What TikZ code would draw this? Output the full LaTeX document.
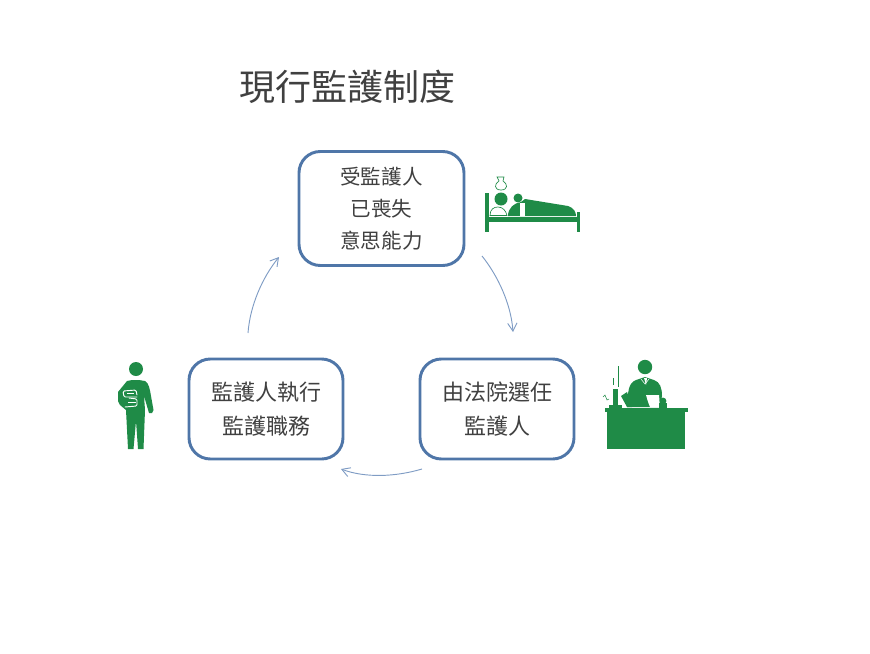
\documentclass[tikz,border=0pt]{standalone}
\usepackage{fontspec}
\setmainfont{Noto Sans CJK TC}
\usetikzlibrary{arrows.meta}
\definecolor{boxblue}{HTML}{4F76A8}
\definecolor{arrowblue}{HTML}{7F9CC4}
\definecolor{txt}{HTML}{404040}
\definecolor{icon}{HTML}{1F8B47}
\tikzset{
  stepbox/.style={draw=boxblue,line width=2.2pt,rounded corners=16pt,fill=white,text=txt,align=center,inner sep=0pt},
  link/.style={draw=arrowblue,line width=0.7pt,-{Straight Barb[length=6pt,width=7pt,line width=0.7pt]}},
  ink/.style={fill=icon,draw=none},
  whiteline/.style={draw=white,line width=0.7pt},
}
\begin{document}
\begin{tikzpicture}[x=0.75pt,y=-0.75pt]
\useasboundingbox (0,0) rectangle (870,653);
\node[text=txt,font=\fontsize{27}{30}\selectfont,inner sep=0pt] (title) at (347,87) {現行監護制度};
\node[stepbox,font=\fontsize{15.4}{24}\selectfont,minimum width=123.75pt,minimum height=85.5pt] (ward) at (381.5,208.5) {受監護人\\已喪失\\意思能力};
\node[stepbox,font=\fontsize{16.5}{25.5}\selectfont,minimum width=115.5pt,minimum height=75pt] (court) at (497,409) {由法院選任\\監護人};
\node[stepbox,font=\fontsize{16.5}{25.5}\selectfont,minimum width=115.5pt,minimum height=75pt] (guard) at (266,409) {監護人執行\\監護職務};
\coordinate (a1s) at (248,333); \coordinate (a1e) at (279,257);
\coordinate (a2s) at (482,256); \coordinate (a2e) at (513,332);
\coordinate (a3s) at (422,469); \coordinate (a3e) at (341,469);
\draw[link] (a1s) .. controls (250,306) and (262,278) .. (a1e);
\draw[link] (a2s) .. controls (498,276) and (511,304) .. (a2e);
\draw[link] (a3s) .. controls (395,477) and (365,478) .. (a3e);
% bed icon
\fill[ink] (485,193) rectangle (488.5,232);
\fill[ink] (576.5,212) rectangle (580,232);
\fill[ink] (485,217) rectangle (580,222);
\fill[ink] (501,199) circle (6.5);
\fill[ink] (518,198) circle (4.5);
\fill[ink] (508,216) .. controls (508,208) and (514,203) .. (521,202) -- (525,199) -- (568,206) .. controls (574,208) and (576,212) .. (576,216) -- cycle;
\fill[white] (520,203) rectangle (525,216);
\draw[icon,line width=0.5pt,fill=white] (490,215.5) .. controls (490,209) and (494,207) .. (498,207) .. controls (503,207) and (506,211) .. (507,215.5) -- cycle;
\draw[icon,line width=0.5pt,fill=white] (497,177) -- (504,177) -- (503,181) .. controls (508,184) and (508,190) .. (501,190) .. controls (494,190) and (494,184) .. (499,181) -- cycle;
% desk icon
\fill[ink] (605,408) rectangle (688,412);
\fill[ink] (607,412) rectangle (685,449);
\fill[ink] (645,367) circle (7.2);
\fill[ink] (627,407) .. controls (628,392) and (628,383) .. (636,380) -- (645,377) -- (654,380) .. controls (660,382) and (662,388) .. (662,396) -- (660,407) -- cycle;
\fill[ink] (621,396) -- (627,392) -- (632,407) -- (627,407) -- cycle;
\fill[white] (644,378) -- (647,378) -- (646,385) -- cycle;
\draw[white,line width=0.4pt] (641,379) -- (645,384) -- (649,379);
\fill[white] (646,395) -- (659,395) -- (660,407) -- (650,407) .. controls (648,402) and (647,399) .. (646,395) -- cycle;
\fill[ink] (663,401) circle (3.4); \fill[ink] (659,403) rectangle (667,408);
\fill[ink] (613,389) rectangle (618,405);
\fill[ink] (609,405) rectangle (622,407.5);
\draw[icon,line width=0.5pt] (618,366) -- (618,387);
\draw[icon,line width=0.5pt] (613,378) -- (613,385);
\draw[icon,line width=0.4pt] (603,397) -- (605,395) -- (607,400) -- (609,399);
% standing person icon
\fill[ink] (136,369) circle (7);
\fill[ink] (127,381) -- (132,380) -- (139,380) -- (145,381) .. controls (149,383) and (150,390) .. (151,396) -- (153.5,410) -- (152,413) -- (149,413) -- (144,396) -- (145,410) -- (143.5,449) -- (138,449) -- (136,421) -- (133.5,449) -- (128,449) -- (126,410) -- (120,405) -- (118,401) -- (118,392) -- cycle;
\draw[whiteline,line cap=round,rounded corners=1pt] (137,397) -- (124,397) -- (123,391) -- (136,390) -- (137,395);
\draw[whiteline,line cap=round,rounded corners=1pt] (129,398) -- (137,399) -- (137,406) -- (125,407);
\draw[whiteline] (127,393.5) -- (134,393.5);
\draw[whiteline] (128,402) -- (136,402);
\end{tikzpicture}
\end{document}
